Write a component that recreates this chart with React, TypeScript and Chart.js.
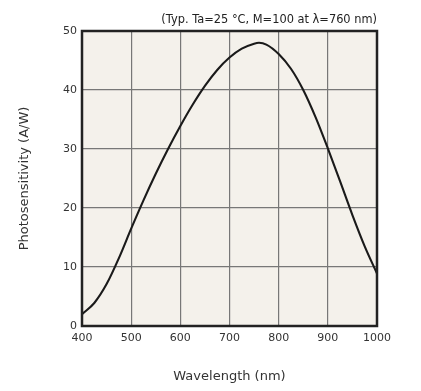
import React, { useEffect, useRef } from "react";
import { Chart, registerables } from "chart.js";

Chart.register(...registerables);

const wavelengths = [400, 425, 450, 475, 500, 525, 550, 575, 600, 625, 650, 675, 700, 725, 750, 760, 775, 800, 825, 850, 875, 900, 925, 950, 975, 1000];
const sensitivity = [2.0, 3.9, 7.1, 11.5, 16.5, 21.3, 25.8, 30.0, 33.9, 37.5, 40.7, 43.4, 45.5, 47.0, 47.85, 48.0, 47.7, 46.1, 43.6, 40.0, 35.4, 30.1, 24.5, 18.8, 13.5, 8.9];
const xTicks = [400, 500, 600, 700, 800, 900, 1000];
const yTicks = [0, 10, 20, 30, 40, 50];
const conditionNote = "(Typ. Ta=25 °C, M=100 at λ=760 nm)";
const xTitle = "Wavelength (nm)";
const yTitle = "Photosensitivity (A/W)";

const FONT = "'DejaVu Sans', Verdana, sans-serif";

const framePlugin = {
  id: "frame",
  beforeDraw(chart: any) {
    const { ctx, chartArea: a } = chart;
    ctx.save();
    ctx.fillStyle = "#f4f1eb";
    ctx.fillRect(a.left, a.top, a.right - a.left, a.bottom - a.top);
    ctx.restore();
  },
  afterDraw(chart: any) {
    const { ctx, chartArea: a } = chart;
    ctx.save();
    ctx.strokeStyle = "#222";
    ctx.lineWidth = 2.5;
    ctx.strokeRect(a.left, a.top, a.right - a.left, a.bottom - a.top);
    ctx.fillStyle = "#222";
    ctx.font = `11.4px ${FONT}`;
    ctx.textAlign = "right";
    ctx.textBaseline = "middle";
    ctx.fillText(conditionNote, a.right, 20);
    ctx.restore();
  },
};

export default function App() {
  const ref = useRef<HTMLCanvasElement | null>(null);
  useEffect(() => {
    if (!ref.current) return;
    const chart = new Chart(ref.current, {
      type: "line",
      data: {
        datasets: [
          {
            data: wavelengths.map((w, i) => ({ x: w, y: sensitivity[i] })),
            borderColor: "#1a1a1a",
            borderWidth: 2.1,
            pointRadius: 0,
            cubicInterpolationMode: "monotone",
            fill: false,
          },
        ],
      },
      options: {
        animation: false,
        responsive: false,
        layout: { padding: { left: 0, top: 31, right: 44, bottom: 0 } },
        plugins: { legend: { display: false }, tooltip: { enabled: false } },
        scales: {
          x: {
            type: "linear",
            min: 400,
            max: 1000,
            afterBuildTicks: (s: any) => {
              s.ticks = xTicks.map((v) => ({ value: v }));
            },
            afterFit: (s: any) => {
              s.height = 65;
            },
            grid: { color: "#777", lineWidth: 1.2, drawTicks: false },
            border: { display: false },
            ticks: {
              color: "#333",
              padding: 6,
              font: { family: FONT, size: 11 },
              callback: (v: any) => String(v),
            },
            title: {
              display: true,
              text: xTitle,
              color: "#333",
              font: { family: FONT, size: 13 },
              padding: { top: 0, bottom: 7 },
            },
          },
          y: {
            type: "linear",
            min: 0,
            max: 50,
            afterBuildTicks: (s: any) => {
              s.ticks = yTicks.map((v) => ({ value: v }));
            },
            afterFit: (s: any) => {
              s.width = 82;
            },
            grid: { color: "#777", lineWidth: 1.2, drawTicks: false },
            border: { display: false },
            ticks: {
              color: "#333",
              padding: 5,
              font: { family: FONT, size: 11 },
              callback: (v: any) => String(v),
            },
            title: {
              display: true,
              text: yTitle,
              color: "#333",
              font: { family: FONT, size: 13 },
              padding: { top: 17, bottom: 0 },
            },
          },
        },
      },
      plugins: [framePlugin],
    } as any);
    return () => chart.destroy();
  }, []);
  return (
    <div style={{ position: "fixed", left: 0, top: 0, width: 421, height: 391, background: "#fff" }}>
      <canvas ref={ref} width={421} height={391} style={{ width: 421, height: 391 }} />
    </div>
  );
}
